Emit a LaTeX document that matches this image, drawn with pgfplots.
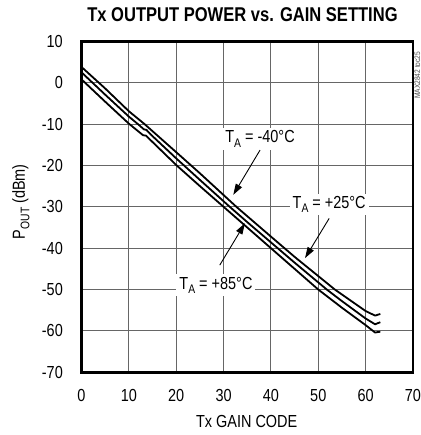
\documentclass[border=0pt]{standalone}
\usepackage{fontspec}
\setmainfont{Liberation Sans}[FakeStretch=0.83]
\usepackage{pgfplots}
\pgfplotsset{compat=1.18}
\usetikzlibrary{arrows.meta}
\newcommand{\sub}[1]{\raisebox{-0.25em}{\fontsize{12.5}{13}\selectfont #1}}
\begin{document}
\fontsize{17.5}{20}\selectfont
\begin{tikzpicture}
\begin{axis}[
  at={(0,0)}, anchor=south west,
  scale only axis, width=331.5bp, height=331bp,
  xmin=0, xmax=70, ymin=-70, ymax=10,
  xtick={0,10,...,70}, ytick={-70,-60,...,10},
  grid=major, major grid style={black!60, line width=0.9bp},
  major tick length=0pt,
  axis line style={line width=2.6bp},
  /pgf/number format/assume math mode=true,
  ticklabel style={font=\fontsize{17.5}{20}\selectfont},
  xticklabel style={anchor=base, inner sep=0pt, yshift=-28.7bp},
  yticklabel style={anchor=east, inner sep=0pt, xshift=-18.5bp},
  curve/.style={black, no markers, line width=1.8bp, line join=round},
]
% T_A = -40 C
\addplot[curve] coordinates {
(0,3.8) (5,-1.4) (10,-6.9) (13.3,-10) (20,-16.8) (25,-21.9) (32.7,-30)
(40,-37.2) (45,-42.1) (53.5,-50) (56,-52.0) (60,-55.2) (62,-56.3)
(62.4,-56.15) (63.1,-55.9)};
% T_A = +25 C
\addplot[curve] coordinates {
(0,2.5) (5,-2.9) (10,-8.2) (11.9,-10) (13.2,-11.3) (13.7,-11.4) (14.6,-12.5)
(20,-18.3) (25,-23.5) (31.3,-30) (35,-33.7) (40,-38.6) (45,-43.5)
(51.8,-50) (55,-52.8) (60,-57.0) (62,-58.4) (62.4,-58.2) (63.1,-57.9)};
% T_A = +85 C
\addplot[curve] coordinates {
(0,0.8) (5,-4.6) (10,-9.9) (13,-12.7) (13.6,-12.8) (14.6,-13.9) (20,-19.9)
(25,-25.0) (30,-30.0) (35,-35.0) (40,-40.0) (45,-45.0) (50,-50.0)
(55,-54.4) (60,-58.6) (62,-60.4) (62.4,-60.3) (63.1,-60.2)};

\node[fill=white, inner xsep=3bp, inner ysep=2.5bp, anchor=base] at (axis cs:37.7,-14.5) {T\sub{A} = -40°C};
\node[fill=white, inner xsep=3bp, inner ysep=2.5bp, anchor=base] at (axis cs:52.3,-30.4) {T\sub{A} = +25°C};
\node[fill=white, inner xsep=3bp, inner ysep=2.5bp, anchor=base] at (axis cs:28.4,-49.9) {T\sub{A} = +85°C};
\draw[line width=0.9bp, -{Triangle[length=11bp,width=7bp]}] (axis cs:37.7,-16.3) -- (axis cs:32.05,-27.1);
\draw[line width=0.9bp, -{Triangle[length=11bp,width=7bp]}] (axis cs:52.3,-32.8) -- (axis cs:47.2,-42.4);
\draw[line width=0.9bp, -{Triangle[length=11bp,width=7bp]}] (axis cs:29.2,-44.1) -- (axis cs:34.5,-34.0);
\end{axis}
\node[anchor=base, font=\bfseries\fontsize{20}{22}\selectfont] at (161bp,350.6bp) {Tx OUTPUT POWER vs. GAIN SETTING};
\node[anchor=base] at (165.2bp,-55bp) {Tx GAIN CODE};
\node[anchor=base, rotate=90] at (-56.5bp,170.6bp) {P\sub{OUT} (dBm)};
\node[rotate=90, inner sep=0pt, font=\fontsize{8}{8}\selectfont, text=black!70] at (335.8bp,297bp) {MAX2842 toc25};
\pgfresetboundingbox
\path[use as bounding box] (-81.5bp,-62.7bp) rectangle (339.5bp,372.3bp);
\end{tikzpicture}
\end{document}
